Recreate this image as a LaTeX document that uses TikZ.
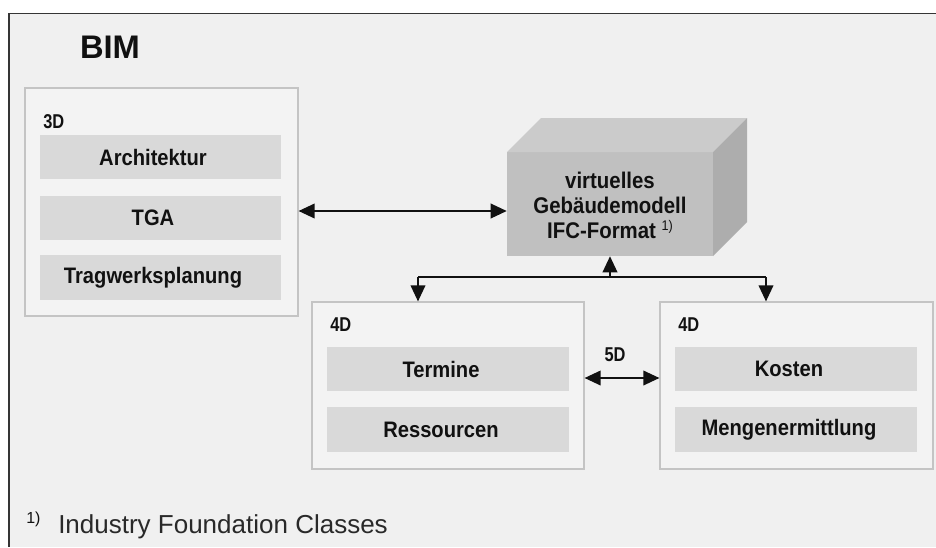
\documentclass[tikz,border=0pt]{standalone}
\usepackage{fontspec}
\setmainfont{Liberation Sans}
\newfontfamily\labelfont{Liberation Sans}[FakeStretch=0.9]
\newfontfamily\tagfont{Liberation Sans}[FakeStretch=0.82]
\usetikzlibrary{arrows.meta,fit}

\definecolor{bgcol}{HTML}{F0F0F0}
\definecolor{panelfill}{HTML}{F3F3F3}
\definecolor{panelline}{HTML}{C4C4C4}
\definecolor{barfill}{HTML}{D9D9D9}
\definecolor{frontface}{HTML}{C0C0C0}
\definecolor{topface}{HTML}{CBCBCB}
\definecolor{sideface}{HTML}{ADADAD}
\definecolor{ink}{HTML}{111111}

\tikzset{
  panel/.style={draw=panelline, line width=0.9pt, fill=panelfill, inner sep=0pt},
  bar/.style={fill=barfill, inner sep=0pt},
  bartext/.style={font=\labelfont\bfseries\fontsize{16.8}{18}\selectfont, text=ink, inner sep=0pt},
  tag/.style={font=\tagfont\bfseries\fontsize{15}{16}\selectfont, text=ink, inner sep=0pt},
  link/.style={draw=ink, line width=1.1pt},
  tip/.style={-{Triangle[length=12pt,width=11pt]}},
  tips/.style={{Triangle[length=12pt,width=11pt]}-{Triangle[length=12pt,width=11pt]}},
}

\begin{document}
\begin{tikzpicture}[x=0.75pt,y=-0.75pt]
  % page and outer frame
  \fill[white] (0,0) rectangle (936,547);
  \useasboundingbox (0,0) rectangle (936,547);
  \fill[bgcol] (9,13.5) rectangle (936,547);
  \draw[ink!85, line width=1.3pt] (936,13.5) -- (9,13.5) -- (9,547);

  \node[font=\bfseries\fontsize{24.5}{26}\selectfont, text=ink, inner sep=0pt] (title) at (110,47) {BIM};

  % 3D panel
  \node[panel, fit={(25,88) (298,316)}] (p3d) {};
  \node[tag, anchor=west] (t3d) at (43,122) {3D};
  \node[bar, fit={(40,135) (281,179)}] (b1) {};
  \node[bar, fit={(40,196) (281,240)}] (b2) {};
  \node[bar, fit={(40,255) (281,300)}] (b3) {};
  \node[bartext] (l1) at (153,157) {Architektur};
  \node[bartext] (l2) at (153,218) {TGA};
  \node[bartext] (l3) at (153,277.5) {Tragwerksplanung};

  % building model block
  \node[fill=frontface, inner sep=0pt, fit={(507,152) (713,256)}] (cube) {};
  \fill[topface] (507,152) -- (541,118) -- (747,118) -- (713,152) -- cycle;
  \fill[sideface] (713,152) -- (747,118) -- (747,222) -- (713,256) -- cycle;
  \node[font=\labelfont\bfseries\fontsize{17}{18.8}\selectfont, text=ink, align=center, inner sep=0pt] (cubetext) at (610,205)
    {virtuelles\\Gebäudemodell\\IFC-Format {\mdseries\fontsize{10.5}{10}\selectfont\raisebox{0.55em}{1)}}};

  % 4D panels
  \node[panel, fit={(312,302) (584,469)}] (p4a) {};
  \node[tag, anchor=west] (t4a) at (330,325) {4D};
  \node[bar, fit={(327,347) (569,391)}] (b4) {};
  \node[bar, fit={(327,407) (569,452)}] (b5) {};
  \node[bartext] (l4) at (441,369) {Termine};
  \node[bartext] (l5) at (441,429.5) {Ressourcen};

  \node[panel, fit={(660,302) (933,469)}] (p4b) {};
  \node[tag, anchor=west] (t4b) at (678,325) {4D};
  \node[bar, fit={(675,347) (917,391)}] (b6) {};
  \node[bar, fit={(675,407) (917,452)}] (b7) {};
  \node[bartext] (l6) at (789,369) {Kosten};
  \node[bartext] (l7) at (789,429.5) {Mengenermittlung};

  % connectors
  \draw[link, tips] (p3d.east |- 0,211) -- (cube.west |- 0,211);
  \coordinate (jm) at (610,277);
  \coordinate (jl) at (418,277);
  \coordinate (jr) at (766,277);
  \draw[link, tip] (jm) -- (cube.south);
  \draw[link] (jl) -- (jr);
  \draw[link, tip] (jl) -- (jl |- p4a.north);
  \draw[link, tip] (jr) -- (jr |- p4b.north);
  \draw[link, tips] (p4a.east |- 0,378) -- (p4b.west |- 0,378);
  \node[tag] (t5d) at (615,355) {5D};

  % footnote
  \node[anchor=west, inner sep=0pt, text=ink, font=\fontsize{12}{12}\selectfont] (fnmark) at (26,519) {1)};
  \node[anchor=west, inner sep=0pt, text=ink!90, font=\fontsize{19.5}{21}\selectfont] (fntext) at (58,527) {Industry Foundation Classes};
\end{tikzpicture}
\end{document}
